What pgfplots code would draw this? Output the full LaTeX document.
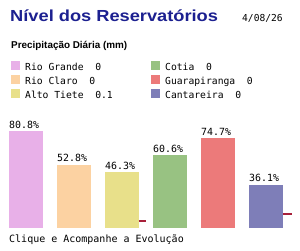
\documentclass[border=0pt]{standalone}
\usepackage{fontspec}
\setmainfont{Liberation Sans}
\newfontfamily\mono{DejaVu Sans Mono}
\usepackage{pgfplots}
\pgfplotsset{compat=1.18}
\definecolor{cRG}{HTML}{E8B0E8}
\definecolor{cRC}{HTML}{FCD2A2}
\definecolor{cAT}{HTML}{E8E08A}
\definecolor{cCO}{HTML}{98C282}
\definecolor{cGU}{HTML}{EC7A7A}
\definecolor{cCA}{HTML}{7E7EB8}
\definecolor{cRed}{HTML}{A8203A}
\definecolor{cTitle}{HTML}{1C2090}
\begin{document}
\begin{tikzpicture}
\path[use as bounding box] (0pt,0pt) rectangle (300pt,250pt);
\begin{axis}[
  at={(0pt,0pt)}, anchor=south west,
  scale only axis, width=300pt, height=250pt,
  axis lines=none, clip=false,
  xmin=-0.541667, xmax=5.708333,
  ymin=-18.3333, ymax=190,
  /pgf/number format/assume math mode=true,
]
\pgfplotsset{mybar/.style={ybar, bar shift=0pt, bar width=34pt, draw=none, fill=#1,
  nodes near coords={\mono\pgfmathprintnumber[fixed,fixed zerofill,precision=1]{\pgfplotspointmeta}\%},
  every node near coord/.append style={anchor=base west, xshift=-17pt, yshift=3pt, inner sep=0pt, font=\mono\fontsize{9.9}{10}\selectfont, text=black}}}
\addplot[mybar=cRG] coordinates {(0,80.8)};
\addplot[mybar=cRC] coordinates {(1,52.8)};
\addplot[mybar=cAT] coordinates {(2,46.3)};
\addplot[mybar=cCO] coordinates {(3,60.6)};
\addplot[mybar=cGU] coordinates {(4,74.7)};
\addplot[mybar=cCA] coordinates {(5,36.1)};
\addplot[cRed, line width=1.2pt] coordinates {(2.354,5.8) (2.49,5.8)};
\addplot[cRed, line width=1.2pt] coordinates {(5.354,11.7) (5.55,11.7)};
\end{axis}
\node[anchor=base west, inner sep=0pt, text=cTitle, font=\fontsize{16}{18}\selectfont\bfseries, xscale=1.14] at (10pt,229pt) {Nível dos Reservatórios};
\node[anchor=base west, inner sep=0pt, font=\mono\fontsize{9.6}{10}\selectfont] at (242pt,229pt) {4/08/26};
\node[anchor=base west, inner sep=0pt, font=\fontsize{9.9}{11}\selectfont\bfseries] at (11pt,202pt) {Precipitação Diária (mm)};
\begin{scope}[font=\mono\fontsize{9.7}{10}\selectfont]
\fill[cRG] (11pt,180pt) rectangle (20pt,189pt);
\node[anchor=base west, inner sep=0pt] at (25pt,180pt) {Rio Grande\ \ 0};
\fill[cRC] (11pt,166pt) rectangle (20pt,175pt);
\node[anchor=base west, inner sep=0pt] at (25pt,166pt) {Rio Claro\ \ 0};
\fill[cAT] (11pt,152pt) rectangle (20pt,161pt);
\node[anchor=base west, inner sep=0pt] at (25pt,152pt) {Alto Tiete\ \ 0.1};
\fill[cCO] (151pt,180pt) rectangle (160pt,189pt);
\node[anchor=base west, inner sep=0pt] at (165pt,180pt) {Cotia\ \ 0};
\fill[cGU] (151pt,166pt) rectangle (160pt,175pt);
\node[anchor=base west, inner sep=0pt] at (165pt,166pt) {Guarapiranga\ \ 0};
\fill[cCA] (151pt,152pt) rectangle (160pt,161pt);
\node[anchor=base west, inner sep=0pt] at (165pt,152pt) {Cantareira\ \ 0};
\end{scope}
\node[anchor=base west, inner sep=0pt, font=\mono\fontsize{10}{10}\selectfont] at (9pt,8pt) {Clique e Acompanhe a Evolução};
\end{tikzpicture}
\end{document}
